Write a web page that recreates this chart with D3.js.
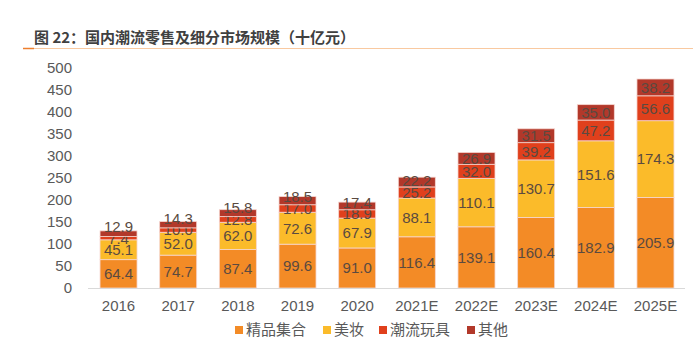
<!DOCTYPE html>
<html>
<head>
<meta charset="utf-8">
<script src="https://cdn.jsdelivr.net/npm/d3@7"></script>
<style>
  body { margin: 0; background: #fff; }
  svg { display: block; }
  text { font-family: "Liberation Sans", Arial, sans-serif; }
  .cjk { font-family: "Noto Sans CJK SC", "Noto Sans", sans-serif; }
</style>
</head>
<body>
<svg id="chart" width="693" height="338"></svg>
<script>
// data
const years = ['2016', '2017', '2018', '2019', '2020', '2021E', '2022E', '2023E', '2024E', '2025E'];
const seriesNames = ['精品集合', '美妆', '潮流玩具', '其他'];
const boutique = [64.4, 74.7, 87.4, 99.6, 91.0, 116.4, 139.1, 160.4, 182.9, 205.9];
const beauty = [45.1, 52.0, 62.0, 72.6, 67.9, 88.1, 110.1, 130.7, 151.6, 174.3];
const toys = [7.4, 10.0, 12.8, 17.0, 18.9, 25.2, 32.0, 39.2, 47.2, 56.6];
const other = [12.9, 14.3, 15.8, 18.5, 17.4, 22.2, 26.9, 31.5, 35.0, 38.2];
const yTicks = [0, 50, 100, 150, 200, 250, 300, 350, 400, 450, 500];

const colors = ['#F38B26', '#FBBB2A', '#E0401C', '#B2382A'];

const rows = years.map((y, i) => ({
    year: y, s0: boutique[i], s1: beauty[i], s2: toys[i], s3: other[i]
}));
const keys = ['s0', 's1', 's2', 's3'];
const stacked = d3.stack().keys(keys)(rows);

const svg = d3.select('#chart');

// title + rule
svg.append('text')
    .attr('class', 'cjk')
    .attr('x', 34)
    .attr('y', 43)
    .attr('font-size', 15)
    .attr('font-weight', 'bold')
    .attr('fill', '#404040')
    .text('图 22：国内潮流零售及细分市场规模（十亿元）');
svg.append('line')
    .attr('x1', 23).attr('x2', 693).attr('y1', 48.5).attr('y2', 48.5)
    .attr('stroke', '#F9C9A0').attr('stroke-width', 1);
svg.append('line')
    .attr('x1', 23).attr('x2', 34).attr('y1', 48.5).attr('y2', 48.5)
    .attr('stroke', '#EE7F2D').attr('stroke-width', 1.5);

const x = d3.scaleBand().domain(years).range([88.7, 685.3]).paddingInner(0.38).paddingOuter(0.19);
const y = d3.scaleLinear().domain([0, 500]).range([288, 68]);

// y axis labels
svg.append('g')
    .selectAll('text')
    .data(yTicks)
    .join('text')
    .attr('x', 72)
    .attr('y', d => y(d))
    .attr('dy', '0.36em')
    .attr('text-anchor', 'end')
    .attr('font-size', 15)
    .attr('fill', '#595959')
    .text(d => d);

// bars
const layer = svg.append('g')
    .selectAll('g')
    .data(stacked)
    .join('g')
    .attr('fill', (d, i) => colors[i]);

layer.selectAll('rect')
    .data(d => d)
    .join('rect')
    .attr('x', d => x(d.data.year))
    .attr('width', x.bandwidth())
    .attr('y', d => y(d[1]))
    .attr('height', d => y(d[0]) - y(d[1]))
    .attr('stroke', '#F6D6D0')
    .attr('stroke-width', 0.8);

// baseline
svg.append('line')
    .attr('x1', 88).attr('x2', 685).attr('y1', 288.5).attr('y2', 288.5)
    .attr('stroke', '#D9D9D9').attr('stroke-width', 1.2);

// value labels, the top one nudged up when it crowds the one below (like excel does)
function labelY(v, key) {
    let mid = y((v[0] + v[1]) / 2);
    if (key === 's3') {
        const d = v.data;
        const below = y(d.s0 + d.s1 + d.s2 / 2);
        mid = Math.min(mid, below - 11.5);
    }
    return mid;
}
layer.selectAll('text')
    .data(d => d.map(v => ({ v, key: d.key })))
    .join('text')
    .attr('x', d => x(d.v.data.year) + x.bandwidth() / 2)
    .attr('y', d => labelY(d.v, d.key))
    .attr('dy', '0.36em')
    .attr('text-anchor', 'middle')
    .attr('font-size', 15)
    .attr('fill', '#5a4a40')
    .text(d => d.v.data[d.key].toFixed(1));

// x axis labels
svg.append('g')
    .selectAll('text')
    .data(years)
    .join('text')
    .attr('x', d => x(d) + x.bandwidth() / 2)
    .attr('y', 311)
    .attr('text-anchor', 'middle')
    .attr('font-size', 15)
    .attr('fill', '#595959')
    .text(d => d);

// legend
const legendX = [235, 323, 379, 467];
const legend = svg.append('g')
    .selectAll('g')
    .data(seriesNames)
    .join('g')
    .attr('transform', (d, i) => `translate(${legendX[i]},330)`);
legend.append('rect')
    .attr('x', 0).attr('y', -4).attr('width', 8).attr('height', 8)
    .attr('fill', (d, i) => colors[i]);
legend.append('text')
    .attr('class', 'cjk')
    .attr('x', 11)
    .attr('dy', '0.36em')
    .attr('font-size', 15)
    .attr('fill', '#595959')
    .text(d => d);
</script>
</body>
</html>
